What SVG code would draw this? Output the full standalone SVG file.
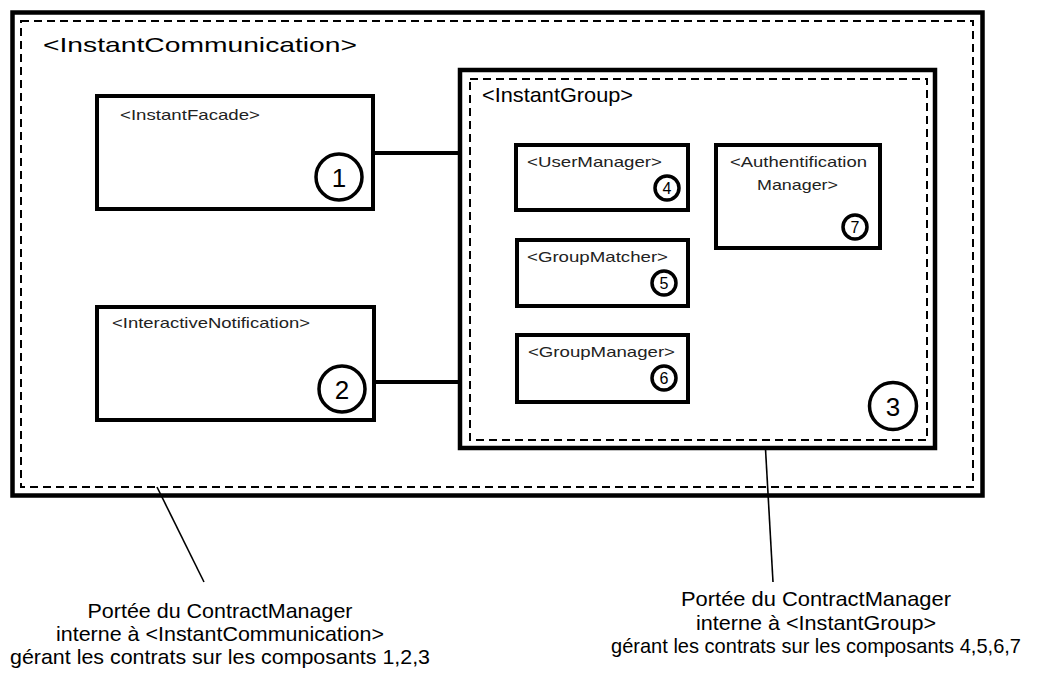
<svg xmlns="http://www.w3.org/2000/svg" width="1050" height="673" viewBox="0 0 1050 673">
<style>
.box{fill:#fff;stroke:#000;stroke-width:4.5}
.sbox{fill:#fff;stroke:#000;stroke-width:4}
.dash{fill:none;stroke:#000;stroke-width:2;stroke-dasharray:8 5}
.con{stroke:#000;stroke-width:4;fill:none}
.lead{stroke:#000;stroke-width:1.6;fill:none}
.bc{fill:#fff;stroke:#000;stroke-width:3.5}
.sc{fill:#fff;stroke:#000;stroke-width:3.5}
text{font-family:"Liberation Sans",Arial,sans-serif;fill:#000}
.t{font-size:15px;fill:#222}
.big{font-size:21px}
.d1{font-size:26px;text-anchor:middle}
.d2{font-size:16px;text-anchor:middle}
.note{font-size:21px;text-anchor:middle}
</style>
<rect width="1050" height="673" fill="#fff"/>
<g id="InstantCommunication">
<rect class="box" x="12.5" y="12.5" width="970" height="483"/>
<rect class="dash" x="21" y="21" width="952" height="466"/>
<text class="big" x="43" y="52" textLength="314" lengthAdjust="spacingAndGlyphs">&lt;InstantCommunication&gt;</text>
</g>
<g id="connectors">
<line class="con" x1="373" y1="153" x2="460" y2="153"/>
<line class="con" x1="374" y1="382" x2="460" y2="382"/>
<line class="con" x1="688" y1="165" x2="716" y2="165"/>
<line class="con" x1="603" y1="306" x2="603" y2="335"/>
<line class="lead" x1="157" y1="487" x2="204" y2="582"/>
<line class="lead" x1="765" y1="440" x2="773" y2="582"/>
</g>
<g id="InstantFacade">
<rect class="sbox" x="97" y="96" width="276" height="113"/>
<text class="t" x="120" y="120" textLength="140" lengthAdjust="spacingAndGlyphs">&lt;InstantFacade&gt;</text>
<circle class="bc" cx="339" cy="177" r="23"/>
<text class="d1" x="339" y="186.5">1</text>
</g>
<g id="InteractiveNotification">
<rect class="sbox" x="97" y="307" width="277" height="113"/>
<text class="t" x="112" y="328" textLength="198" lengthAdjust="spacingAndGlyphs">&lt;InteractiveNotification&gt;</text>
<circle class="bc" cx="342" cy="389" r="23"/>
<text class="d1" x="342" y="398.5">2</text>
</g>
<g id="InstantGroup">
<rect class="box" x="460" y="70" width="475" height="378"/>
<rect class="dash" x="470" y="79" width="457" height="361"/>
<text class="big" x="482" y="102" textLength="151" lengthAdjust="spacingAndGlyphs">&lt;InstantGroup&gt;</text>
<circle class="bc" cx="893" cy="406" r="23.5"/>
<text class="d1" x="893" y="415.5">3</text>
</g>
<g id="UserManager">
<rect class="sbox" x="516" y="145" width="172" height="65"/>
<text class="t" x="527" y="167" textLength="135" lengthAdjust="spacingAndGlyphs">&lt;UserManager&gt;</text>
<circle class="sc" cx="667" cy="188" r="12"/>
<text class="d2" x="667" y="194">4</text>
</g>
<g id="AuthentificationManager">
<rect class="sbox" x="716" y="145" width="164" height="103"/>
<text class="t" x="730" y="167" textLength="137" lengthAdjust="spacingAndGlyphs">&lt;Authentification</text>
<text class="t" x="757" y="190" textLength="81" lengthAdjust="spacingAndGlyphs">Manager&gt;</text>
<circle class="sc" cx="855" cy="227" r="12"/>
<text class="d2" x="855" y="233">7</text>
</g>
<g id="GroupMatcher">
<rect class="sbox" x="517" y="240" width="171" height="66"/>
<text class="t" x="527" y="262" textLength="141" lengthAdjust="spacingAndGlyphs">&lt;GroupMatcher&gt;</text>
<circle class="sc" cx="664" cy="283" r="12"/>
<text class="d2" x="664" y="289">5</text>
</g>
<g id="GroupManager">
<rect class="sbox" x="517" y="335" width="171" height="67"/>
<text class="t" x="528" y="357" textLength="147" lengthAdjust="spacingAndGlyphs">&lt;GroupManager&gt;</text>
<circle class="sc" cx="664" cy="378" r="12"/>
<text class="d2" x="664" y="384">6</text>
</g>
<g id="note-left">
<text class="note" x="220" y="618" textLength="265" lengthAdjust="spacingAndGlyphs">Portée du ContractManager</text>
<text class="note" x="220" y="641" textLength="328" lengthAdjust="spacingAndGlyphs">interne à &lt;InstantCommunication&gt;</text>
<text class="note" x="220" y="664" textLength="420" lengthAdjust="spacingAndGlyphs">gérant les contrats sur les composants 1,2,3</text>
</g>
<g id="note-right">
<text class="note" x="816" y="606" textLength="270" lengthAdjust="spacingAndGlyphs">Portée du ContractManager</text>
<text class="note" x="816" y="630" textLength="240" lengthAdjust="spacingAndGlyphs">interne à &lt;InstantGroup&gt;</text>
<text class="note" x="816" y="653" textLength="410" lengthAdjust="spacingAndGlyphs">gérant les contrats sur les composants 4,5,6,7</text>
</g>
</svg>
